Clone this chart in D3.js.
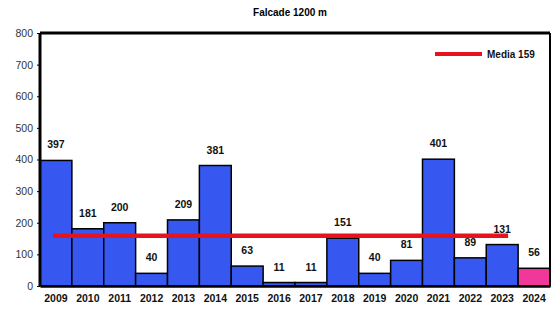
<!DOCTYPE html>
<html>
<head>
<meta charset="utf-8">
<script src="https://cdn.jsdelivr.net/npm/d3@7"></script>
<style>
  body { margin: 0; background: #fff; }
  text { font-family: "Liberation Sans", Arial, sans-serif; }
</style>
</head>
<body>
<div id="chart"></div>
<script>
// Data
var years = ["2009","2010","2011","2012","2013","2014","2015","2016","2017","2018","2019","2020","2021","2022","2023","2024"];
var snow = [397, 181, 200, 40, 209, 381, 63, 11, 11, 151, 40, 81, 401, 89, 131, 56];
var mean = 159;
var yTicks = [0, 100, 200, 300, 400, 500, 600, 700, 800];

var svgWidth = 557, svgHeight = 309;
var margin = { top: 33, right: 7, bottom: 23, left: 40 };
var width = svgWidth - margin.left - margin.right;
var height = svgHeight - margin.top - margin.bottom;

var svg = d3.select("#chart").append("svg")
  .attr("width", svgWidth)
  .attr("height", svgHeight);

var g = svg.append("g")
  .attr("transform", "translate(" + margin.left + "," + margin.top + ")");

var x = d3.scaleBand().domain(years).range([0, width]).padding(0);
var y = d3.scaleLinear().domain([0, 800]).range([height, 0]);

// title
svg.append("text")
  .attr("x", 290).attr("y", 16)
  .attr("text-anchor", "middle")
  .attr("font-size", 10).attr("font-weight", "bold")
  .text("Falcade 1200 m");

// bars
g.selectAll("rect.bar")
  .data(snow)
  .enter().append("rect")
  .attr("class", "bar")
  .attr("x", function (d, i) { return x(years[i]); })
  .attr("y", function (d) { return y(d); })
  .attr("width", x.bandwidth())
  .attr("height", function (d) { return height - y(d); })
  .attr("fill", function (d, i) { return i == years.length - 1 ? "#f0379a" : "#3658f0"; })
  .attr("stroke", "#000")
  .attr("stroke-width", 1.5);

// value labels
g.selectAll("text.val")
  .data(snow)
  .enter().append("text")
  .attr("class", "val")
  .attr("x", function (d, i) { return x(years[i]) + x.bandwidth() / 2; })
  .attr("y", function (d) { return y(d) - 12; })
  .attr("text-anchor", "middle")
  .attr("font-size", 10.5).attr("font-weight", "bold")
  .attr("fill", "#111")
  .text(function (d) { return d; });

// mean line
g.append("line")
  .attr("x1", x("2009") + 13).attr("x2", x("2023") + x.bandwidth() - 10)
  .attr("y1", y(mean)).attr("y2", y(mean))
  .attr("stroke", "#e8121c").attr("stroke-width", 4.5);

// frame
g.append("line").attr("x1", 0).attr("x2", width).attr("y1", 0).attr("y2", 0)
  .attr("stroke", "#000").attr("stroke-width", 3);
g.append("line").attr("x1", 0).attr("x2", 0).attr("y1", 0).attr("y2", height)
  .attr("stroke", "#000").attr("stroke-width", 3);
g.append("line").attr("x1", width).attr("x2", width).attr("y1", 0).attr("y2", height)
  .attr("stroke", "#000").attr("stroke-width", 2);

// y axis
var yAxis = g.append("g")
  .call(d3.axisLeft(y).tickValues(yTicks).tickSize(3).tickPadding(4));
yAxis.select(".domain").remove();
yAxis.selectAll("text").attr("font-size", 10.5).attr("fill", "#333")
  .style("font-family", "'Liberation Sans', Arial, sans-serif");

// x axis
var xAxis = g.append("g")
  .attr("transform", "translate(0," + height + ")")
  .call(d3.axisBottom(x).tickSize(0).tickPadding(9));
xAxis.select(".domain").attr("stroke-width", 2.5);
xAxis.selectAll("text").attr("font-size", 10.5).attr("font-weight", "bold").attr("fill", "#111")
  .style("font-family", "'Liberation Sans', Arial, sans-serif");

// legend
var lg = g.append("g").attr("transform", "translate(" + (width - 115) + ",21)");
lg.append("line").attr("x1", 0).attr("x2", 47).attr("y1", 0).attr("y2", 0)
  .attr("stroke", "#e8121c").attr("stroke-width", 4);
lg.append("text").attr("x", 52).attr("y", 4)
  .attr("font-size", 10).attr("font-weight", "bold").attr("fill", "#111")
  .text("Media " + mean);
</script>
</body>
</html>
